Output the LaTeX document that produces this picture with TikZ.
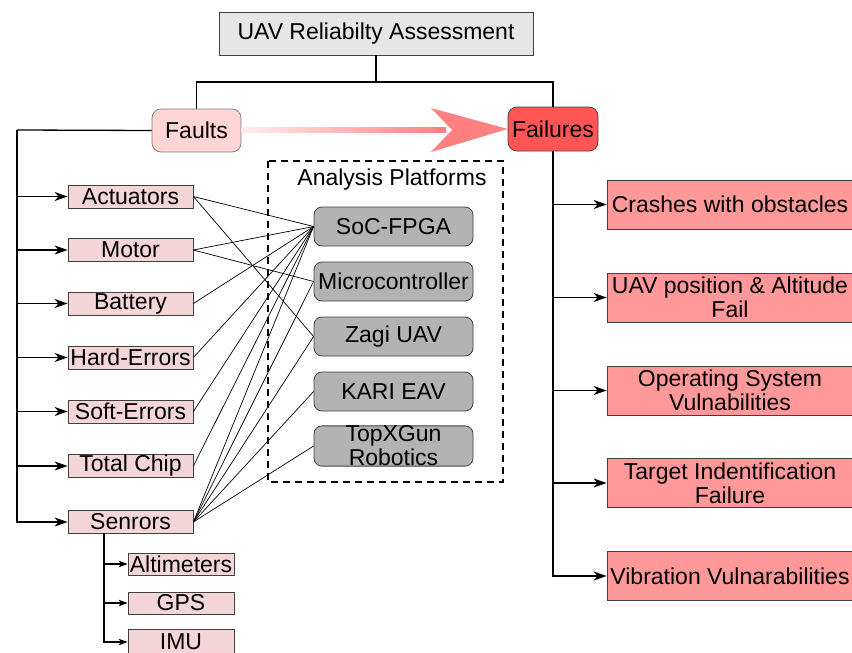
\documentclass[tikz,border=0pt]{standalone}
\usepackage{fontspec}
\setmainfont{Liberation Sans}
\usetikzlibrary{arrows.meta,shapes.misc}
\definecolor{titlefill}{HTML}{E6E6E6}
\definecolor{faultfill}{HTML}{FFD5D5}
\definecolor{failfill}{HTML}{FF5555}
\definecolor{subfill}{HTML}{F4D6D6}
\definecolor{platfill}{HTML}{B3B3B3}
\definecolor{resfill}{HTML}{FF9999}
\definecolor{bigarrow}{HTML}{FF8080}
\definecolor{edge}{HTML}{404040}
\begin{document}
\begin{tikzpicture}[x=1pt,y=-1pt,
  every node/.style={font=\fontsize{23}{24}\selectfont, inner sep=0pt, align=center},
  titlebox/.style={draw=edge, fill=titlefill, line width=0.8pt, minimum width=314pt, minimum height=43pt},
  faultsbox/.style={draw=edge!70, fill=faultfill, rounded corners=9pt, line width=0.7pt, minimum width=89pt, minimum height=43pt},
  failbox/.style={draw=edge, fill=failfill, rounded corners=9pt, line width=0.7pt, minimum width=90pt, minimum height=44pt},
  subbox/.style={draw=edge, fill=subfill, line width=0.8pt, minimum width=125pt, minimum height=23pt},
  sensbox/.style={draw=edge, fill=subfill, line width=0.8pt, minimum width=106pt, minimum height=22pt},
  platbox/.style={draw=edge, fill=platfill, rounded corners=8pt, line width=0.8pt, minimum width=159pt, minimum height=39pt},
  resbox/.style={draw=edge, fill=resfill, line width=0.8pt, minimum width=246pt, minimum height=49pt},
  trunk/.style={line width=1.3pt, black},
  arr/.style={trunk, -{Stealth[length=13pt,width=9pt,inset=4pt]}},
  sarr/.style={line width=1.1pt, black, -{Stealth[length=9pt,width=6.5pt,inset=2.5pt]}},
  cross/.style={line width=0.7pt, black}
]
\useasboundingbox (0,0) rectangle (852,653);

% top
\node[titlebox] (title) at (376,33.5) {UAV Reliabilty Assessment};
\node[faultsbox] (faults) at (196.5,130.5) {Faults};
\node[failbox] (failures) at (553,129) {Failures};

\coordinate (tj) at (376,82);
\draw[trunk] (title.south) -- (tj);
\draw[trunk] (tj) -| (faults.north);
\draw[trunk] (tj) -| (failures.north);

% big gradient arrow
\shade[left color=faultfill!40, right color=bigarrow] (241.5,127.5) rectangle (446,132.5);
\fill[bigarrow] (failures.west) -- (431,108) -- (452,130) -- (431,152) -- cycle;

% fault sub-boxes
\node[subbox] (act) at (130.5,196.5) {Actuators};
\node[subbox] (mot) at (130.5,250) {Motor};
\node[subbox] (bat) at (130.5,303.5) {Battery};
\node[subbox] (hard) at (130.5,357.5) {Hard-Errors};
\node[subbox] (soft) at (130.5,411.5) {Soft-Errors};
\node[subbox] (chip) at (130.5,466) {Total Chip};
\node[subbox] (sens) at (130.5,522) {Senrors};

\coordinate (lt) at (17,130);
\draw[trunk] (faults.west) -- (lt);
\draw[arr] (lt) |- (sens.west);
\foreach \n in {act,mot,bat,hard,soft,chip}
  \draw[arr] (lt |- \n.west) -- (\n.west);

% sensors children
\node[sensbox] (alt) at (181,564) {Altimeters};
\node[sensbox] (gps) at (181,603) {GPS};
\node[sensbox, minimum height=26pt] (imu) at (181,642) {IMU};
\coordinate (st) at (104,533);
\draw[sarr] (st) |- (imu.west);
\draw[sarr] (st |- alt.west) -- (alt.west);
\draw[sarr] (st |- gps.west) -- (gps.west);

% analysis platforms
\draw[line width=2pt, dash pattern=on 7pt off 5pt] (268,161) rectangle (503,482);
\node (aptitle) at (392,180) {Analysis Platforms};
\node[platbox] (soc) at (393.5,226.5) {SoC-FPGA};
\node[platbox] (mcu) at (393.5,281.5) {Microcontroller};
\node[platbox] (zagi) at (393.5,336.5) {Zagi UAV};
\node[platbox] (kari) at (393.5,391.5) {KARI EAV};
\node[platbox] (topx) at (393.5,446) {\fontsize{23}{19}\selectfont TopXGun\\Robotics};

% cross connections
\foreach \n in {act,mot,bat,hard,soft,chip,sens}
  \draw[cross] (\n.east) -- (soc.west);
\draw[cross] (mot.east) -- (mcu.west);
\draw[cross] (act.east) -- (zagi.west);
\draw[cross] (sens.east) -- (mcu.west);
\draw[cross] (sens.east) -- (zagi.west);
\draw[cross] (sens.east) -- (kari.west);
\draw[cross] (sens.east) -- (topx.west);

% failures
\node[resbox] (crash) at (730,204.5) {Crashes with obstacles};
\node[resbox] (pos) at (730,297.5) {UAV position \& Altitude\\Fail};
\node[resbox] (os) at (730,390.5) {Operating System\\Vulnabilities};
\node[resbox] (target) at (730,483) {Target Indentification\\Failure};
\node[resbox] (vib) at (730,576) {Vibration Vulnarabilities};

\coordinate (rt) at (554,151);
\draw[arr] (failures.south) |- (vib.west);
\foreach \n in {crash,pos,os,target}
  \draw[arr] (rt |- \n.west) -- (\n.west);
\end{tikzpicture}
\end{document}
